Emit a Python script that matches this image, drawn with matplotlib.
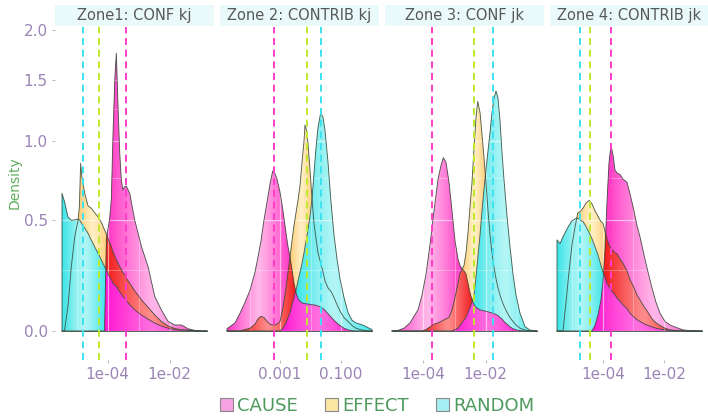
import numpy as np
import matplotlib
matplotlib.use("Agg")
import matplotlib.pyplot as plt
from matplotlib.colors import to_rgb
from matplotlib.image import AxesImage
from matplotlib.path import Path
from matplotlib.patches import Patch, Rectangle
from matplotlib.ticker import NullFormatter, FixedLocator, FixedFormatter

plt.rcParams['font.family'] = ['DejaVu Sans']

# ---------------- data (log10 of x, density) ----------------
panel_titles = ["Zone1: CONF kj", "Zone 2: CONTRIB kj", "Zone 3: CONF jk", "Zone 4: CONTRIB jk"]
groups = ["CAUSE", "EFFECT", "RANDOM"]

p1_log10x = [-5.47, -5.39, -5.28, -5.17, -5.06, -4.96, -4.91, -4.87, -4.83, -4.74,
             -4.63, -4.53, -4.42, -4.31, -4.20, -4.10, -4.04, -3.99, -3.94, -3.88,
             -3.83, -3.77, -3.72, -3.67, -3.61, -3.56, -3.51, -3.45, -3.40, -3.29,
             -3.13, -2.91, -2.70, -2.48, -2.27, -2.05, -1.84, -1.62, -1.41, -1.19,
             -0.98, -0.80]
p1_cause = [0, 0, 0, 0, 0, 0, 0, 0, 0, 0, 0, 0, 0, 0, 0, 0,
            0.40, 0.45, 0.50, 0.62,
            1.03, 1.50, 1.755, 1.30, 0.913, 0.735, 0.673, 0.693, 0.697, 0.653,
            0.50, 0.36, 0.265, 0.133, 0.08, 0.035, 0.022, 0.022, 0.008, 0.002,
            0, 0]
p1_effect = [0, 0, 0.093, 0.265, 0.411, 0.49, 0.574, 0.844, 0.756, 0.653,
             0.578, 0.565, 0.54, 0.517, 0.485, 0.446, 0.425, 0.402, 0.38, 0.36,
             0.335, 0.315, 0.296, 0.28, 0.265, 0.252, 0.237, 0.227, 0.212, 0.19,
             0.158, 0.12, 0.09, 0.06, 0.035, 0.018, 0.009, 0.004, 0.003, 0.001,
             0, 0]
p1_random = [0.653, 0.603, 0.517, 0.497, 0.50, 0.503, 0.50, 0.49, 0.478, 0.455,
             0.428, 0.394, 0.36, 0.328, 0.296, 0.265, 0.249, 0.234, 0.219, 0.205,
             0.19, 0.183, 0.176, 0.164, 0.154, 0.145, 0.133, 0.127, 0.117, 0.10,
             0.08, 0.06, 0.044, 0.029, 0.018, 0.01, 0.004, 0.003, 0.002, 0.001,
             0, 0]

p2_log10x = [-4.738, -4.475, -4.311, -4.148, -3.984, -3.820, -3.721, -3.623, -3.525, -3.426,
             -3.328, -3.239, -3.164, -3.098, -3.000, -2.902, -2.803, -2.738, -2.672, -2.607,
             -2.541, -2.475, -2.410, -2.344, -2.279, -2.213, -2.180, -2.131, -2.082, -2.016,
             -1.951, -1.885, -1.820, -1.754, -1.666, -1.590, -1.525, -1.426, -1.328, -1.230,
             -1.131, -1.033, -0.902, -0.770, -0.639, -0.508, -0.377, -0.246, -0.115, 0.016]
p2_cause = [0.008, 0.03, 0.067, 0.11, 0.16, 0.24, 0.31, 0.39, 0.50, 0.60,
            0.71, 0.793, 0.775, 0.74, 0.66, 0.55, 0.43, 0.36, 0.31, 0.25,
            0.19, 0.15, 0.125, 0.115, 0.108, 0.105, 0.105, 0.104, 0.103, 0.102,
            0.10, 0.10, 0.098, 0.095, 0.092, 0.085, 0.078, 0.065, 0.052, 0.04,
            0.029, 0.02, 0.01, 0.004, 0.001, 0, 0, 0, 0, 0]
p2_effect = [0, 0, 0, 0.005, 0.01, 0.025, 0.045, 0.055, 0.05, 0.035,
             0.025, 0.022, 0.022, 0.025, 0.035, 0.09, 0.17, 0.24, 0.31, 0.39,
             0.47, 0.54, 0.61, 0.70, 0.85, 1.0, 1.12, 1.08, 0.98, 0.80,
             0.62, 0.48, 0.40, 0.33, 0.28, 0.24, 0.20, 0.17, 0.155, 0.13,
             0.10, 0.075, 0.05, 0.035, 0.02, 0.01, 0.005, 0.002, 0, 0]
p2_random = [0, 0, 0, 0, 0, 0, 0, 0, 0, 0,
             0, 0, 0, 0, 0, 0.01, 0.03, 0.05, 0.07, 0.10,
             0.13, 0.16, 0.20, 0.24, 0.28, 0.33, 0.36, 0.40, 0.45, 0.52,
             0.62, 0.78, 0.95, 1.10, 1.218, 1.18, 1.08, 0.85, 0.60, 0.42,
             0.30, 0.21, 0.13, 0.07, 0.04, 0.03, 0.025, 0.02, 0.012, 0.005]

p3_log10x = [-5.016, -4.823, -4.629, -4.435, -4.306, -4.177, -4.048, -3.919, -3.790, -3.661,
             -3.532, -3.435, -3.361, -3.274, -3.177, -3.081, -2.984, -2.887, -2.823, -2.758,
             -2.694, -2.629, -2.565, -2.500, -2.435, -2.371, -2.306, -2.252, -2.177, -2.113,
             -2.048, -1.984, -1.919, -1.855, -1.790, -1.726, -1.661, -1.597, -1.532, -1.468,
             -1.403, -1.306, -1.210, -1.113, -1.016, -0.887, -0.726, -0.565, -0.339]
p3_cause = [0, 0.002, 0.01, 0.03, 0.055, 0.08, 0.14, 0.23, 0.37, 0.55,
            0.74, 0.83, 0.882, 0.85, 0.72, 0.55, 0.39, 0.30, 0.27, 0.255,
            0.245, 0.23, 0.19, 0.15, 0.12, 0.10, 0.09, 0.085, 0.08, 0.078,
            0.076, 0.074, 0.072, 0.07, 0.068, 0.065, 0.062, 0.058, 0.05, 0.045,
            0.035, 0.025, 0.015, 0.008, 0.004, 0.001, 0, 0, 0]
p3_effect = [0, 0, 0, 0, 0, 0, 0, 0.005, 0.015, 0.025,
             0.03, 0.035, 0.04, 0.045, 0.05, 0.08, 0.13, 0.19, 0.234, 0.25,
             0.27, 0.33, 0.43, 0.574, 0.72, 0.95, 1.18, 1.31, 1.22, 1.05,
             0.88, 0.72, 0.55, 0.42, 0.33, 0.26, 0.21, 0.17, 0.14, 0.115,
             0.095, 0.07, 0.05, 0.035, 0.022, 0.01, 0.003, 0, 0]
p3_random = [0, 0, 0, 0, 0, 0, 0, 0, 0, 0,
             0, 0, 0, 0, 0, 0, 0.005, 0.01, 0.02, 0.03,
             0.04, 0.05, 0.07, 0.09, 0.11, 0.14, 0.22, 0.30, 0.42, 0.55,
             0.68, 0.80, 0.93, 1.06, 1.22, 1.34, 1.40, 1.34, 1.15, 0.92,
             0.735, 0.52, 0.36, 0.23, 0.14, 0.067, 0.016, 0.003, 0]

p4_log10x = [-5.508, -5.410, -5.311, -5.213, -5.115, -5.016, -4.918, -4.830, -4.754, -4.656,
             -4.557, -4.449, -4.361, -4.262, -4.164, -4.066, -4.000, -3.934, -3.869, -3.803,
             -3.738, -3.672, -3.607, -3.541, -3.443, -3.344, -3.213, -3.115, -3.016, -2.885,
             -2.787, -2.656, -2.525, -2.393, -2.262, -2.131, -1.967, -1.803, -1.607, -1.377,
             -1.148, -0.754]
p4_cause = [0, 0, 0, 0, 0, 0, 0, 0, 0, 0,
            0, 0, 0, 0.02, 0.06, 0.12, 0.2, 0.35, 0.6, 0.85,
            0.97, 0.90, 0.80, 0.78, 0.77, 0.74, 0.72, 0.65, 0.574, 0.47,
            0.41, 0.32, 0.24, 0.17, 0.11, 0.067, 0.035, 0.022, 0.013, 0.004,
            0.001, 0]
p4_effect = [0, 0, 0, 0.11, 0.24, 0.37, 0.46, 0.537, 0.545, 0.565,
             0.595, 0.61, 0.59, 0.55, 0.52, 0.49, 0.48, 0.44, 0.40, 0.37,
             0.35, 0.34, 0.33, 0.325, 0.30, 0.28, 0.245, 0.205, 0.18, 0.14,
             0.12, 0.093, 0.07, 0.045, 0.03, 0.02, 0.01, 0.004, 0.002, 0,
             0, 0]
p4_random = [0.394, 0.375, 0.41, 0.44, 0.47, 0.495, 0.505, 0.51, 0.50, 0.49,
             0.465, 0.43, 0.40, 0.36, 0.32, 0.27, 0.24, 0.215, 0.19, 0.175,
             0.16, 0.15, 0.14, 0.127, 0.115, 0.10, 0.085, 0.067, 0.055, 0.042,
             0.035, 0.027, 0.02, 0.015, 0.01, 0.007, 0.004, 0.002, 0.001, 0,
             0, 0]

# group means (log10 x) drawn as dashed lines
mean_cause = [-3.42, -3.197, -3.726, -3.738]
mean_effect = [-4.28, -2.115, -2.371, -4.426]
mean_random = [-4.796, -1.656, -1.758, -4.754]

x_ticks = [[1e-4, 1e-2], [1e-3, 1e-1], [1e-4, 1e-2], [1e-4, 1e-2]]
x_tick_labels = [["1e-04", "1e-02"], ["0.001", "0.100"], ["1e-04", "1e-02"], ["1e-04", "1e-02"]]
x_minor = [[1e-5, 1e-3, 1e-1], [1e-4, 1e-2, 1.0], [1e-5, 1e-3, 1e-1], [1e-5, 1e-3, 1e-1]]
y_ticks = [0.0, 0.5, 1.0, 1.5, 2.0]
y_tick_labels = ["0.0", "0.5", "1.0", "1.5", "2.0"]
y_minor = [0.25, 0.75, 1.25, 1.75]

panels = [
    (p1_log10x, p1_cause, p1_effect, p1_random),
    (p2_log10x, p2_cause, p2_effect, p2_random),
    (p3_log10x, p3_cause, p3_effect, p3_random),
    (p4_log10x, p4_cause, p4_effect, p4_random),
]

# ---------------- style ----------------
W, H = 708.0, 417.0
data_left = [62, 227, 392, 557]
data_w = 145.0
top_px, bot_px = 27.0, 360.0
yt_top, yt_bot = 1.109, -0.106

col_pink = ("#FF36C4", "#FFB6E8")
col_magenta = ("#FF14D0", "#FF6EE0")
col_red = ("#F21A1A", "#FF8C8C")
col_yellow = ("#FFCC78", "#FFF0C4")
col_cyan = ("#3CE4E8", "#B4F6F6")
line_col = "#36483A"
vcol = {"CAUSE": "#FF3CC8", "EFFECT": "#BFEA2C", "RANDOM": "#3CE2F0"}
tick_col = "#9A85B5"
key_cols = {"CAUSE": "#F4A2E2", "EFFECT": "#FBE6A2", "RANDOM": "#A6EEF4"}

fig = plt.figure(figsize=(7.08, 4.17), dpi=100)


def grad_fill(ax, xf, lower, upper, cols, xlo, xhi, z):
    dark, light = cols
    mask = upper > lower + 1e-5
    if mask.sum() < 2:
        return
    d = np.array(to_rgb(dark))
    l = np.array(to_rgb(light))
    mid = 0.5 * (d + l)
    pc = ax.fill_between(10 ** xf, lower, upper, where=mask, interpolate=True,
                         facecolor=mid, edgecolor='none', lw=0, zorder=z)
    paths = [p for p in pc.get_paths() if len(p.vertices) > 2]
    if not paths:
        return
    comp = Path.make_compound_path(*paths)
    sel = xf[mask]
    u0 = (sel.min() - xlo) / (xhi - xlo)
    u1 = (sel.max() - xlo) / (xhi - xlo)
    uc = 0.5 * (u0 + u1)
    hw = max(0.5 * (u1 - u0), 1e-3)
    u = np.linspace(0, 1, 400)
    t = np.clip(np.abs(u - uc) / hw, 0, 1) ** 1.2
    row = l[None, :] * (1 - t[:, None]) + d[None, :] * t[:, None]
    img = np.repeat(row[None, :, :], 4, axis=0)
    im = AxesImage(ax, interpolation='bilinear', extent=(0, 1, 0, 1),
                   transform=ax.transAxes, zorder=z + 0.01)
    im.set_data(img)
    ax.add_image(im)
    im.set_clip_path(comp, transform=ax.transData)


for i, (lx, c, e, r) in enumerate(panels):
    lx = np.array(lx, float)
    C = np.array(c, float)
    E = np.array(e, float)
    R = np.array(r, float)
    lo, hi = lx[0], lx[-1]
    pad = 0.05 * (hi - lo)
    xlo, xhi = lo - pad, hi + pad
    left_px = data_left[i] - 0.05 * data_w
    ax = fig.add_axes([left_px / W, 1 - bot_px / H, data_w * 1.1 / W, (bot_px - top_px) / H])
    ax.set_xscale('log')
    ax.set_yscale('function', functions=(np.log1p, np.expm1))

    xf = np.linspace(lo, hi, 1500)
    Cf = np.interp(xf, lx, C)
    Ef = np.interp(xf, lx, E)
    Rf = np.interp(xf, lx, R)
    zero = np.zeros_like(xf)

    grad_fill(ax, xf, Cf, Rf, col_cyan, xlo, xhi, 1.0)
    grad_fill(ax, xf, np.maximum(Cf, Rf), Ef, col_yellow, xlo, xhi, 1.1)
    grad_fill(ax, xf, np.maximum(Ef, Rf), Cf, col_pink, xlo, xhi, 1.2)
    grad_fill(ax, xf, Rf, np.minimum(Cf, Ef), col_red, xlo, xhi, 1.3)
    grad_fill(ax, xf, zero, np.minimum(Cf, Rf), col_magenta, xlo, xhi, 1.4)

    for Y in (R, E, C):
        X = np.concatenate([[lx[0]], lx, [lx[-1]]])
        YY = np.concatenate([[0], Y, [0]])
        ax.plot(10 ** X, YY, color=line_col, lw=0.65, alpha=0.85, zorder=3)
    ax.plot([10 ** lo, 10 ** hi], [0, 0], color=line_col, lw=0.7, alpha=0.85, zorder=3)

    for g, m in zip(groups, (mean_cause[i], mean_effect[i], mean_random[i])):
        ax.axvline(10 ** m, color=vcol[g], lw=1.4, ls=(0, (3.6, 2.4)), zorder=4)

    ax.set_xlim(10 ** xlo, 10 ** xhi)
    ax.set_ylim(np.expm1(yt_bot), np.expm1(yt_top))
    ax.xaxis.set_major_locator(FixedLocator(x_ticks[i]))
    ax.xaxis.set_major_formatter(FixedFormatter(x_tick_labels[i]))
    ax.xaxis.set_minor_locator(FixedLocator(x_minor[i]))
    ax.xaxis.set_minor_formatter(NullFormatter())
    ax.yaxis.set_major_locator(FixedLocator(y_ticks))
    if i == 0:
        ax.yaxis.set_major_formatter(FixedFormatter(y_tick_labels))
    else:
        ax.yaxis.set_major_formatter(NullFormatter())
    ax.yaxis.set_minor_locator(FixedLocator(y_minor))
    ax.yaxis.set_minor_formatter(NullFormatter())
    ax.set_axisbelow(False)
    ax.grid(which='major', color='white', lw=0.9, alpha=0.55)
    ax.grid(which='minor', color='white', lw=0.5, alpha=0.45)
    for s in ax.spines.values():
        s.set_visible(False)
    ax.tick_params(axis='both', which='minor', length=0)
    ax.tick_params(axis='x', which='major', length=2.5, width=0.8, color='#BDBDBD',
                   labelcolor=tick_col, labelsize=11, pad=2.5)
    ax.tick_params(axis='y', which='major', length=2.5 if i == 0 else 0, width=0.8,
                   color='#BDBDBD', labelcolor=tick_col, labelsize=11, pad=2.5)
    ax.patch.set_alpha(0)

    # strip
    fig.patches.append(Rectangle((left_px / W, 1 - 25.5 / H), data_w * 1.1 / W, 20.5 / H,
                                 transform=fig.transFigure, facecolor='#EAF9F9',
                                 edgecolor='none', zorder=0))
    fig.text((left_px + data_w * 0.55) / W, 1 - 15.5 / H, panel_titles[i], ha='center',
             va='center', fontsize=10.5, color='#585858')

fig.text(15 / W, 1 - 183 / H, "Density", rotation=90, ha='center', va='center',
         fontsize=10, color='#5FAF5F')

handles = [Patch(facecolor=key_cols[g], edgecolor='#8A8A8A', lw=0.8) for g in groups]
fig.legend(handles, groups, loc='center', bbox_to_anchor=(377 / W, 1 - 406 / H), ncol=3,
           frameon=False, fontsize=13, labelcolor='#4E9A5E', handlelength=0.75,
           handleheight=0.75, handletextpad=0.2, columnspacing=1.5, borderpad=0)

fig.savefig("out.png", dpi=100)
